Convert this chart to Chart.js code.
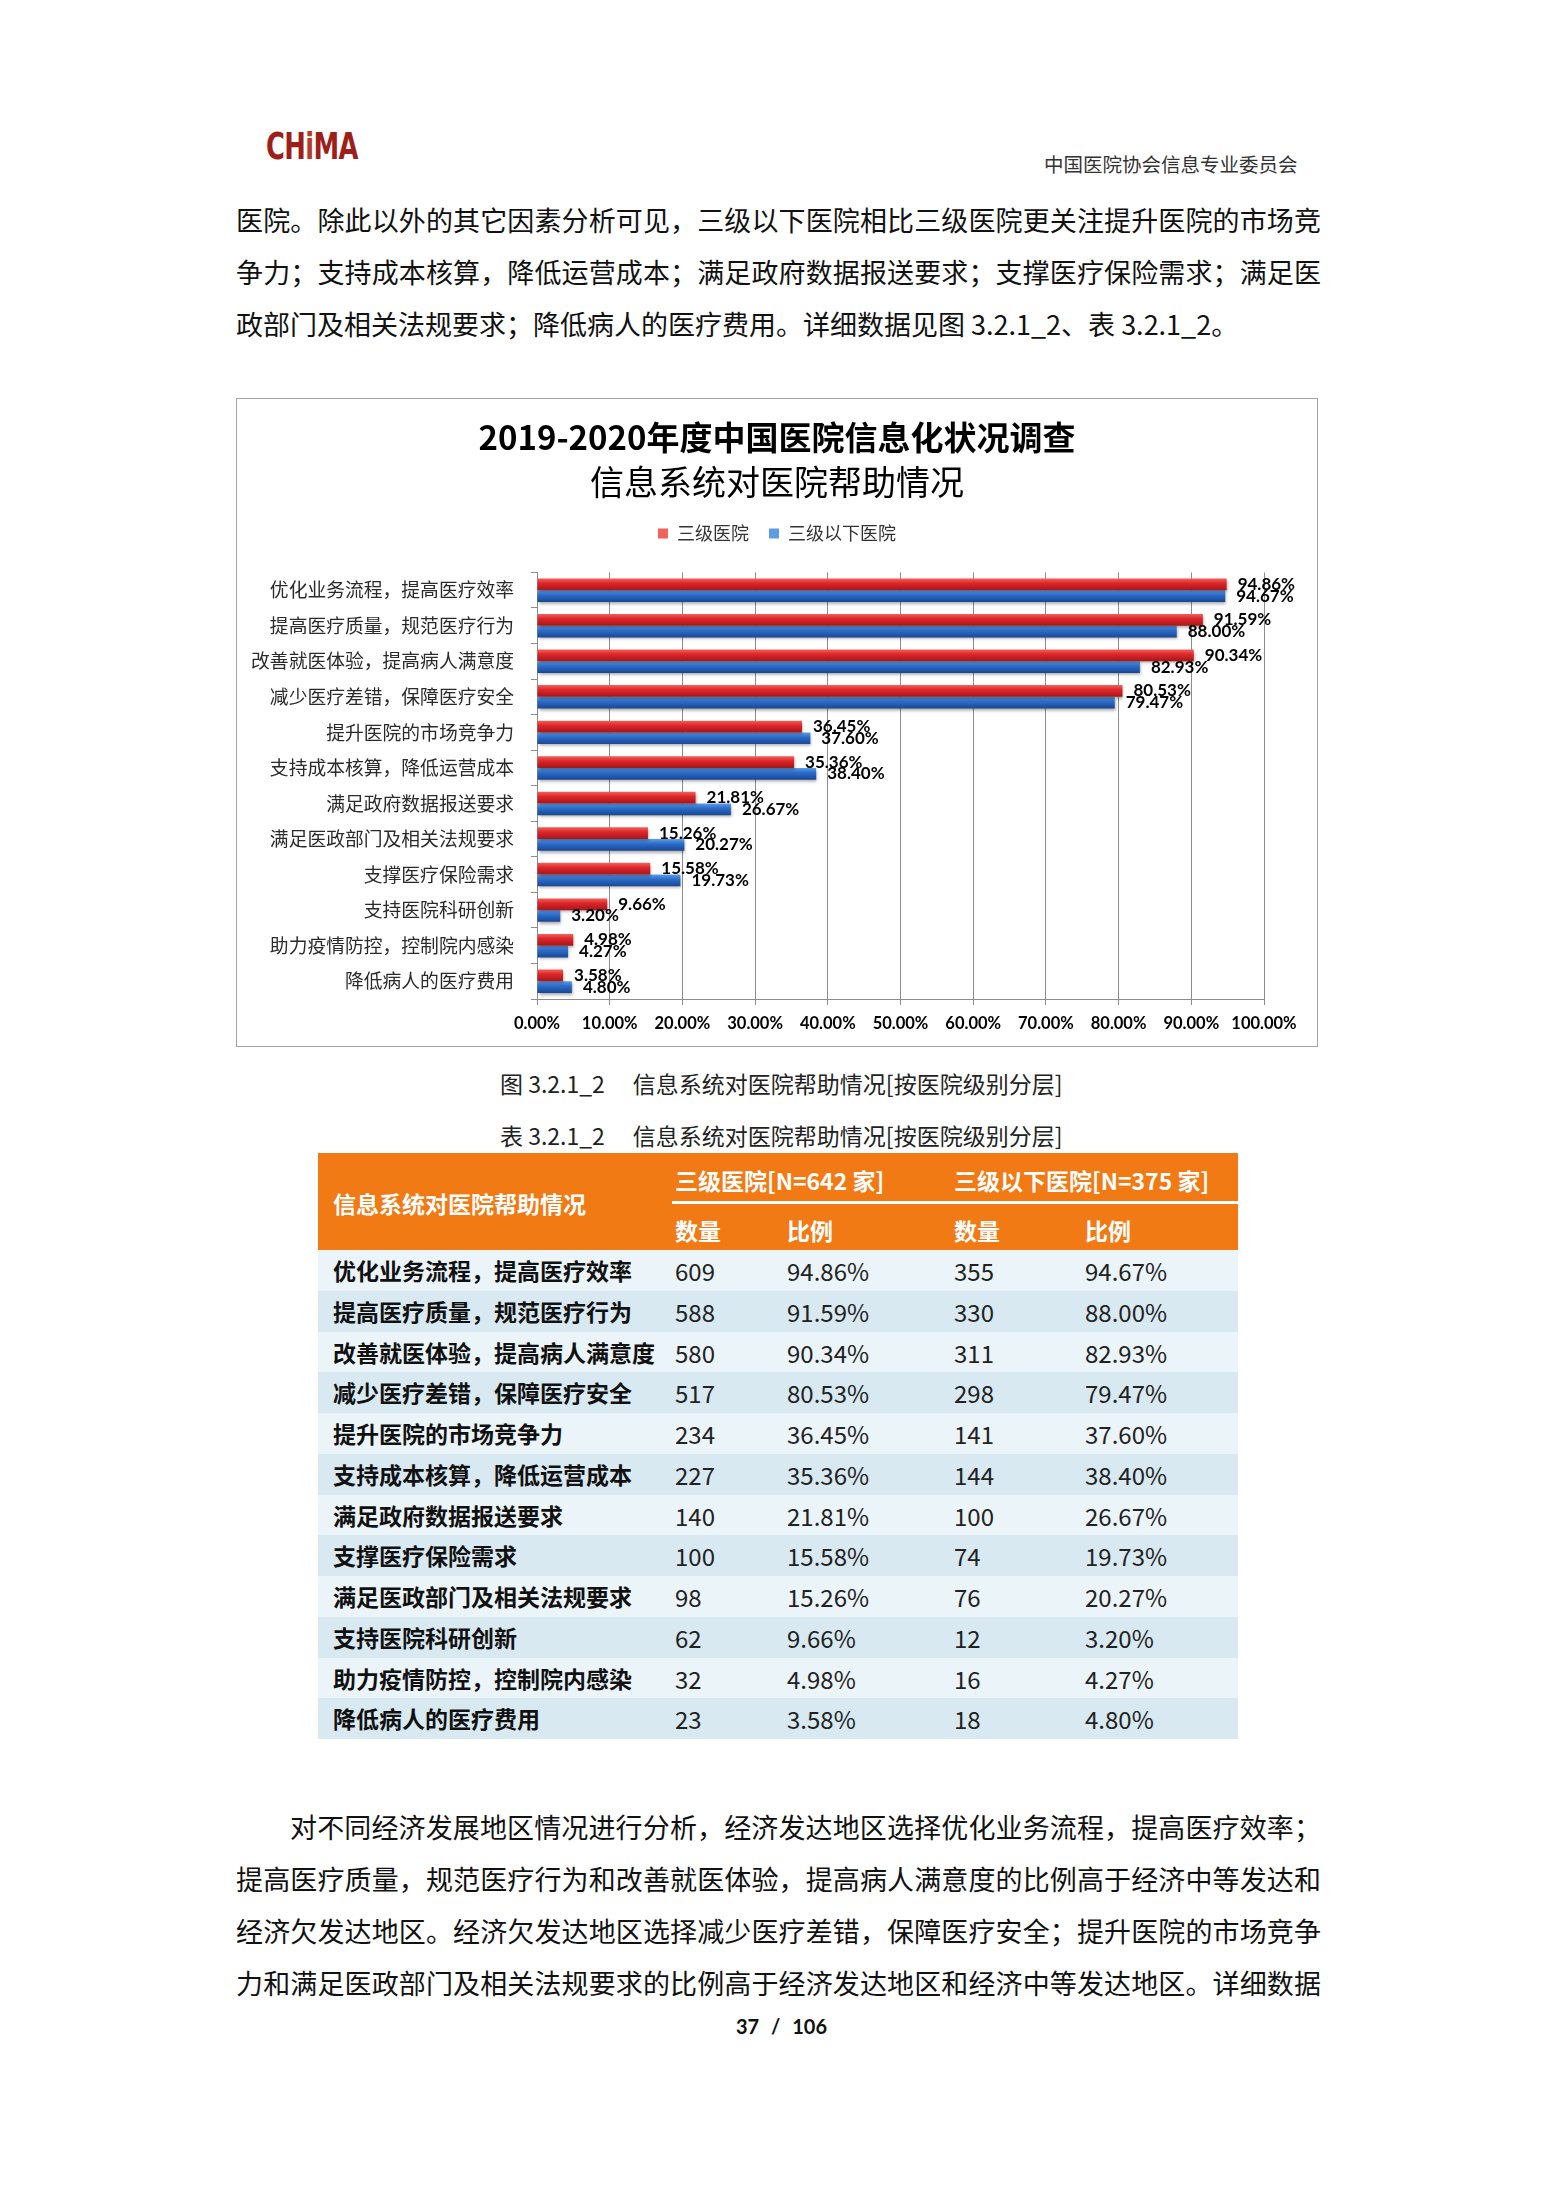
<!DOCTYPE html>
<html>
<head>
<meta charset="utf-8">
<script src="https://cdn.jsdelivr.net/npm/chart.js@4.4.1/dist/chart.umd.min.js"></script>
<style>
html,body{margin:0;padding:0;background:#fff;}
body{width:1555px;height:2199px;position:relative;overflow:hidden;font-family:"Noto Sans CJK SC","Noto Sans",sans-serif;color:#111;}
.abs{position:absolute;white-space:nowrap;}
.line{position:absolute;left:236px;width:1085px;font-size:27px;line-height:36px;height:36px;color:#111;overflow:visible;}
.just{text-align:justify;text-align-last:justify;}
#chartBox{position:absolute;left:236px;top:398px;width:1082px;height:649px;box-sizing:border-box;border:1px solid #a3a3a3;background:#fff;}
#chartBox canvas{display:block;}
.cap{position:absolute;left:500px;font-size:23px;line-height:28px;color:#222;white-space:nowrap;}
.th{position:absolute;color:#fff;font-weight:bold;font-size:23px;line-height:30px;white-space:nowrap;}
.row{position:absolute;left:318px;width:920px;height:41px;}
.cell{position:absolute;top:0;line-height:41px;font-size:24px;color:#222;white-space:nowrap;}
.lab{font-weight:bold;font-size:23px;color:#111;}
</style>
</head>
<body>

<!-- page header -->
<div class="abs" style="left:266px;top:127px;height:38px;font-family:'DejaVu Sans',sans-serif;font-weight:bold;font-size:38px;line-height:38px;color:#9e1e1a;transform:scaleX(0.68);transform-origin:left center;letter-spacing:-1px;">CH<span style="color:#b83a2a">i</span>MA</div>
<div class="abs" style="left:1044px;top:151px;font-size:19.5px;line-height:26px;color:#333;">中国医院协会信息专业委员会</div>

<div class="line just" style="top:202px;">医院。除此以外的其它因素分析可见，三级以下医院相比三级医院更关注提升医院的市场竞</div>
<div class="line just" style="top:254px;">争力；支持成本核算，降低运营成本；满足政府数据报送要求；支撑医疗保险需求；满足医</div>
<div class="line" style="top:306px;">政部门及相关法规要求；降低病人的医疗费用。详细数据见图 3.2.1_2、表 3.2.1_2。</div>

<div id="chartBox"><canvas id="c"></canvas></div>

<div class="cap" style="top:1069px;">图 3.2.1_2<span style="margin-left:28px">信息系统对医院帮助情况[按医院级别分层]</span></div>
<div class="cap" style="top:1121px;">表 3.2.1_2<span style="margin-left:28px">信息系统对医院帮助情况[按医院级别分层]</span></div>

<div id="table"></div>

<div class="line" style="top:1809px;padding-left:54px;width:1031px;" ><div class="just">对不同经济发展地区情况进行分析，经济发达地区选择优化业务流程，提高医疗效率；</div></div>
<div class="line just" style="top:1861px;">提高医疗质量，规范医疗行为和改善就医体验，提高病人满意度的比例高于经济中等发达和</div>
<div class="line just" style="top:1913px;">经济欠发达地区。经济欠发达地区选择减少医疗差错，保障医疗安全；提升医院的市场竞争</div>
<div class="line just" style="top:1965px;">力和满足医政部门及相关法规要求的比例高于经济发达地区和经济中等发达地区。详细数据</div>

<div class="abs" style="left:736px;top:2013px;font-family:Lato,sans-serif;font-weight:bold;font-size:20px;line-height:26px;word-spacing:7px;color:#111;">37 / 106</div>

<script>
// ---------- chart data ----------
const categories = [
  '优化业务流程，提高医疗效率',
  '提高医疗质量，规范医疗行为',
  '改善就医体验，提高病人满意度',
  '减少医疗差错，保障医疗安全',
  '提升医院的市场竞争力',
  '支持成本核算，降低运营成本',
  '满足政府数据报送要求',
  '满足医政部门及相关法规要求',
  '支撑医疗保险需求',
  '支持医院科研创新',
  '助力疫情防控，控制院内感染',
  '降低病人的医疗费用'
];
const seriesNames = ['三级医院', '三级以下医院'];
const level3Pct = [94.86, 91.59, 90.34, 80.53, 36.45, 35.36, 21.81, 15.26, 15.58, 9.66, 4.98, 3.58];
const belowLevel3Pct = [94.67, 88.00, 82.93, 79.47, 37.60, 38.40, 26.67, 20.27, 19.73, 3.20, 4.27, 4.80];
const xTickLabels = ['0.00%', '10.00%', '20.00%', '30.00%', '40.00%', '50.00%', '60.00%', '70.00%', '80.00%', '90.00%', '100.00%'];
const chartTitle = '2019-2020年度中国医院信息化状况调查';
const chartSubtitle = '信息系统对医院帮助情况';

// ---------- table data ----------
const tableTitle = '信息系统对医院帮助情况';
const tableGroups = ['三级医院[N=642 家]', '三级以下医院[N=375 家]'];
const tableSubHeads = ['数量', '比例', '数量', '比例'];
const tableRows = [
  '优化业务流程，提高医疗效率',
  '提高医疗质量，规范医疗行为',
  '改善就医体验，提高病人满意度',
  '减少医疗差错，保障医疗安全',
  '提升医院的市场竞争力',
  '支持成本核算，降低运营成本',
  '满足政府数据报送要求',
  '支撑医疗保险需求',
  '满足医政部门及相关法规要求',
  '支持医院科研创新',
  '助力疫情防控，控制院内感染',
  '降低病人的医疗费用'
];
const tCount3 = [609, 588, 580, 517, 234, 227, 140, 100, 98, 62, 32, 23];
const tPct3 = ['94.86%', '91.59%', '90.34%', '80.53%', '36.45%', '35.36%', '21.81%', '15.58%', '15.26%', '9.66%', '4.98%', '3.58%'];
const tCount2 = [355, 330, 311, 298, 141, 144, 100, 74, 76, 12, 16, 18];
const tPct2 = ['94.67%', '88.00%', '82.93%', '79.47%', '37.60%', '38.40%', '26.67%', '19.73%', '20.27%', '3.20%', '4.27%', '4.80%'];

// ---------- build table ----------
(function(){
  const T = document.getElementById('table');
  let h = '';
  h += '<div class="abs" style="left:318px;top:1153px;width:920px;height:97px;background:#f27a14;"></div>';
  h += '<div class="abs" style="left:672px;top:1201px;width:566px;height:3px;background:#fff;"></div>';
  h += '<div class="th" style="left:333px;top:1188px;">' + tableTitle + '</div>';
  h += '<div class="th" style="left:675px;top:1165px;">' + tableGroups[0] + '</div>';
  h += '<div class="th" style="left:954px;top:1165px;">' + tableGroups[1] + '</div>';
  const subX = [675, 787, 954, 1085];
  tableSubHeads.forEach((s, i) => { h += '<div class="th" style="left:' + subX[i] + 'px;top:1215px;">' + s + '</div>'; });
  const rowH = 40.75;
  tableRows.forEach((r, i) => {
    const top = 1250 + i * rowH;
    const bg = i % 2 === 0 ? '#ebf4f9' : '#d8e9f2';
    h += '<div class="row" style="top:' + top + 'px;background:' + bg + ';">';
    h += '<div class="cell lab" style="left:15px;">' + r + '</div>';
    h += '<div class="cell" style="left:' + (subX[0] - 318) + 'px;">' + tCount3[i] + '</div>';
    h += '<div class="cell" style="left:' + (subX[1] - 318) + 'px;">' + tPct3[i] + '</div>';
    h += '<div class="cell" style="left:' + (subX[2] - 318) + 'px;">' + tCount2[i] + '</div>';
    h += '<div class="cell" style="left:' + (subX[3] - 318) + 'px;">' + tPct2[i] + '</div>';
    h += '</div>';
  });
  T.innerHTML = h;
})();

// ---------- chart ----------
const CJK = '"Noto Sans CJK SC", "Noto Sans", sans-serif';
const LAT = 'Lato, "Open Sans", sans-serif';
const CAT_PCT = 0.66;

function gradientFill(stops, dsIndex) {
  return (c) => {
    if (c.type !== 'data') return stops[1];
    const chart = c.chart, ys = chart.scales.y;
    if (!ys || !isFinite(ys.height) || ys.height <= 0) return stops[1];
    const n = chart.data.labels.length;
    const center = ys.getPixelForValue(c.dataIndex);
    const half = ys.height / n * CAT_PCT / 2;
    const top = dsIndex === 0 ? center - half : center;
    const bot = top + half;
    if (!isFinite(top) || !isFinite(bot)) return stops[1];
    const g = chart.ctx.createLinearGradient(0, top, 0, bot);
    g.addColorStop(0, stops[0]);
    g.addColorStop(0.4, stops[1]);
    g.addColorStop(1, stops[2]);
    return g;
  };
}

const shadowPlugin = {
  id: 'barShadow',
  beforeDatasetsDraw(chart) {
    const c = chart.ctx;
    c.save();
    c.shadowColor = 'rgba(0,0,0,0.35)';
    c.shadowBlur = 3;
    c.shadowOffsetX = 1;
    c.shadowOffsetY = 2;
  },
  afterDatasetsDraw(chart) { chart.ctx.restore(); }
};

const labelPlugin = {
  id: 'valueLabels',
  afterDatasetsDraw(chart) {
    const c = chart.ctx;
    c.save();
    c.font = 'bold 17px ' + LAT;
    c.fillStyle = '#000';
    c.textAlign = 'left';
    c.textBaseline = 'middle';
    chart.data.datasets.forEach((ds, i) => {
      chart.getDatasetMeta(i).data.forEach((el, j) => {
        c.fillText(ds.data[j].toFixed(2) + '%', el.x + 11, el.y);
      });
    });
    c.restore();
  }
};

new Chart(document.getElementById('c'), {
  type: 'bar',
  data: {
    labels: categories,
    datasets: [
      { label: seriesNames[0], data: level3Pct,
        backgroundColor: gradientFill(['#f0625a', '#e0262a', '#a3161a'], 0),
        categoryPercentage: CAT_PCT, barPercentage: 1, borderWidth: 0 },
      { label: seriesNames[1], data: belowLevel3Pct,
        backgroundColor: gradientFill(['#5d9de6', '#2b6dcc', '#1a468f'], 1),
        categoryPercentage: CAT_PCT, barPercentage: 1, borderWidth: 0 }
    ]
  },
  options: {
    indexAxis: 'y',
    responsive: true,
    maintainAspectRatio: false,
    animation: false,
    layout: { padding: 0 },
    plugins: {
      title: { display: true, text: chartTitle, color: '#000',
        font: { family: CJK, size: 33, weight: 'bold', lineHeight: 1.2 },
        padding: { top: 18.2, bottom: 5 } },
      subtitle: { display: true, text: chartSubtitle, color: '#000',
        font: { family: CJK, size: 34, weight: 'normal', lineHeight: 1.2 },
        padding: { top: 0, bottom: 1.8 } },
      legend: { position: 'top', align: 'center',
        labels: { boxWidth: 10, boxHeight: 10, padding: 20, color: '#333',
          font: { family: CJK, size: 18 } } },
      tooltip: { enabled: false }
    },
    scales: {
      x: { type: 'linear', axis: 'x', position: 'bottom', min: 0, max: 100,
        ticks: { stepSize: 10, autoSkip: false, maxRotation: 0, padding: 9, color: '#000',
          font: { family: LAT, size: 16.5, weight: 'bold' },
          callback: (v, i) => xTickLabels[i] },
        grid: { color: '#8c8c8c', lineWidth: 1, tickLength: 6 },
        border: { color: '#8c8c8c' },
        afterFit: (s) => { s.height = 47; } },
      xTop: { type: 'linear', axis: 'x', position: 'top', display: true,
        ticks: { display: false }, grid: { display: false }, border: { display: false },
        afterFit: (s) => { s.height = 20; } },
      y: { type: 'category', axis: 'y', position: 'left',
        ticks: { autoSkip: false, padding: 17, color: '#2a2a2a', font: { family: CJK, size: 18.8 } },
        grid: { offset: true, drawOnChartArea: false, tickLength: 6, color: '#8c8c8c' },
        border: { color: '#8c8c8c' },
        afterFit: (s) => { s.width = 300; } },
      yRight: { type: 'linear', axis: 'y', position: 'right', display: true,
        ticks: { display: false }, grid: { display: false }, border: { display: false },
        afterFit: (s) => { s.width = 53; } }
    }
  },
  plugins: [shadowPlugin, labelPlugin]
});
</script>
</body>
</html>
